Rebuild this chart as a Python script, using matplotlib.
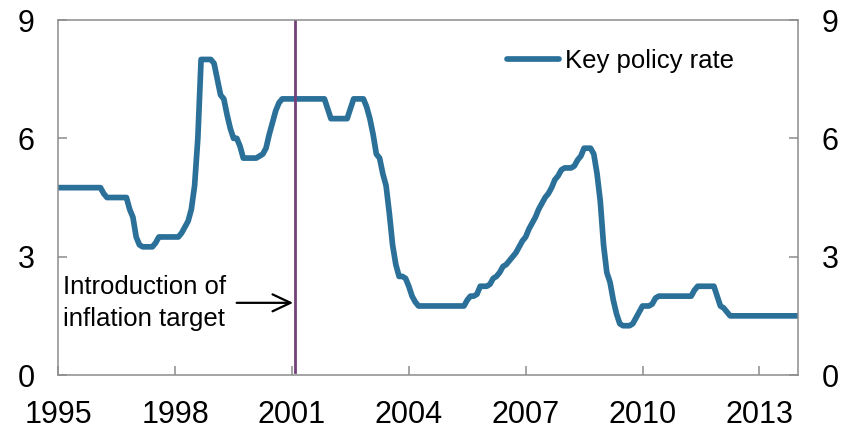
import numpy as np
import matplotlib.pyplot as plt

# Key policy rate, monthly averages (per cent), Jan 1995 - Jan 2014
rate_1995 = [4.75, 4.75, 4.75, 4.75, 4.75, 4.75, 4.75, 4.75, 4.75, 4.75, 4.75, 4.75]
rate_1996 = [4.75, 4.75, 4.6, 4.5, 4.5, 4.5, 4.5, 4.5, 4.5, 4.5, 4.2, 4.0]
rate_1997 = [3.5, 3.3, 3.25, 3.25, 3.25, 3.25, 3.35, 3.5, 3.5, 3.5, 3.5, 3.5]
rate_1998 = [3.5, 3.5, 3.6, 3.75, 3.9, 4.2, 4.8, 6.0, 8.0, 8.0, 8.0, 8.0]
rate_1999 = [7.9, 7.5, 7.1, 7.0, 6.6, 6.25, 6.0, 6.0, 5.8, 5.5, 5.5, 5.5]
rate_2000 = [5.5, 5.5, 5.55, 5.6, 5.75, 6.1, 6.4, 6.7, 6.9, 7.0, 7.0, 7.0]
rate_2001 = [7.0, 7.0, 7.0, 7.0, 7.0, 7.0, 7.0, 7.0, 7.0, 7.0, 7.0, 6.75]
rate_2002 = [6.5, 6.5, 6.5, 6.5, 6.5, 6.5, 6.75, 7.0, 7.0, 7.0, 7.0, 6.8]
rate_2003 = [6.5, 6.1, 5.6, 5.5, 5.1, 4.8, 4.1, 3.3, 2.8, 2.5, 2.5, 2.45]
rate_2004 = [2.25, 2.0, 1.85, 1.75, 1.75, 1.75, 1.75, 1.75, 1.75, 1.75, 1.75, 1.75]
rate_2005 = [1.75, 1.75, 1.75, 1.75, 1.75, 1.75, 1.9, 2.0, 2.0, 2.05, 2.25, 2.25]
rate_2006 = [2.25, 2.3, 2.45, 2.5, 2.6, 2.75, 2.8, 2.9, 3.0, 3.1, 3.25, 3.4]
rate_2007 = [3.5, 3.7, 3.85, 4.0, 4.2, 4.35, 4.5, 4.6, 4.75, 4.95, 5.05, 5.2]
rate_2008 = [5.25, 5.25, 5.25, 5.3, 5.45, 5.55, 5.75, 5.75, 5.75, 5.6, 5.1, 4.4]
rate_2009 = [3.3, 2.6, 2.35, 1.9, 1.55, 1.3, 1.25, 1.25, 1.25, 1.3, 1.45, 1.6]
rate_2010 = [1.75, 1.75, 1.75, 1.8, 1.95, 2.0, 2.0, 2.0, 2.0, 2.0, 2.0, 2.0]
rate_2011 = [2.0, 2.0, 2.0, 2.0, 2.15, 2.25, 2.25, 2.25, 2.25, 2.25, 2.25, 2.0]
rate_2012 = [1.75, 1.7, 1.6, 1.5, 1.5, 1.5, 1.5, 1.5, 1.5, 1.5, 1.5, 1.5]
rate_2013 = [1.5, 1.5, 1.5, 1.5, 1.5, 1.5, 1.5, 1.5, 1.5, 1.5, 1.5, 1.5]
rate_2014 = [1.5]

year_ticks = [1995, 1998, 2001, 2004, 2007, 2010, 2013]
y_ticks = [0, 3, 6, 9]
target_date = 2001.07   # inflation target introduced

rate = np.array(rate_1995 + rate_1996 + rate_1997 + rate_1998 + rate_1999 +
                rate_2000 + rate_2001 + rate_2002 + rate_2003 + rate_2004 +
                rate_2005 + rate_2006 + rate_2007 + rate_2008 + rate_2009 +
                rate_2010 + rate_2011 + rate_2012 + rate_2013 + rate_2014)
t = 1995 + np.arange(len(rate)) / 12.0

plt.rcParams['font.family'] = ['Liberation Sans', 'DejaVu Sans']

fig = plt.figure(figsize=(8.47, 4.33), dpi=100)
ax = fig.add_axes([0.0688, 0.1339, 0.8737, 0.8199])

ax.plot(t, rate, color='#2B7099', lw=4.1, solid_capstyle='round',
        solid_joinstyle='round', label='Key policy rate')
ax.axvline(target_date, ymin=0.008, ymax=1, color='#74407A', lw=2)

ax.text(1995.13, 1.83, 'Introduction of\ninflation target', fontsize=18.5,
        ha='left', va='center', linespacing=1.4)
ax.annotate('', xy=(target_date - 0.04, 1.83), xytext=(1999.58, 1.83),
            arrowprops=dict(arrowstyle='->,head_length=0.7,head_width=0.33',
                            mutation_scale=18.5, color='black', lw=1.6,
                            shrinkA=0, shrinkB=0))

ax.set_xlim(1995, 2014)
ax.set_ylim(0, 9)
ax.set_xticks(year_ticks)
ax.set_yticks(y_ticks)

for s in ax.spines.values():
    s.set_color('#8C8C8C')
    s.set_linewidth(1.1)
ax.tick_params(axis='both', direction='in', length=6.5, width=1.1,
               color='#8C8C8C', labelsize=22, pad=18)
ax.tick_params(axis='y', right=True, labelright=True, pad=17)

ax.legend(loc='center left', bbox_to_anchor=(0.606, 0.885), frameon=False,
          fontsize=18.5, handlelength=2.05, handletextpad=0.2,
          borderpad=0, borderaxespad=0)

fig.savefig('out.png', dpi=100)
